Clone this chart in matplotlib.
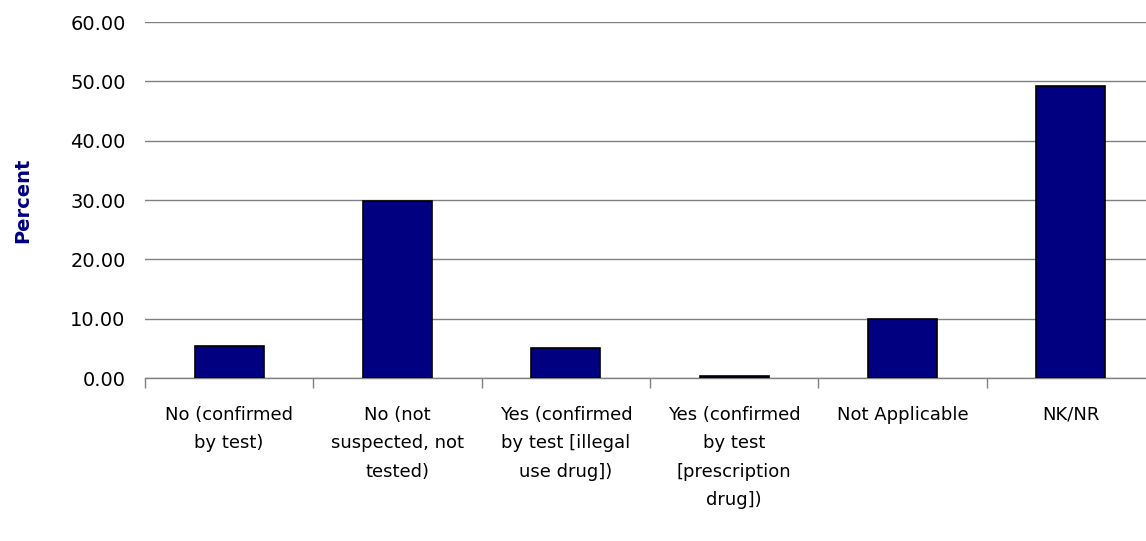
import matplotlib
matplotlib.use("Agg")
import matplotlib.pyplot as plt
from matplotlib.ticker import FixedLocator, FuncFormatter

categories = [
    "No (confirmed\nby test)",
    "No (not\nsuspected, not\ntested)",
    "Yes (confirmed\nby test [illegal\nuse drug])",
    "Yes (confirmed\nby test\n[prescription\ndrug])",
    "Not Applicable",
    "NK/NR",
]
values = [5.4, 29.9, 5.0, 0.3, 10.0, 49.2]
yticks = [0, 10, 20, 30, 40, 50, 60]

W, H = 1146, 541
fig = plt.figure(figsize=(W / 100, H / 100), dpi=100)
left, right, bottom, top = 145, 1155, 378, 22
ax = fig.add_axes([left / W, (H - bottom) / H, (right - left) / W, (bottom - top) / H])

n = len(categories)
centers = [i + 0.5 for i in range(n)]
ax.bar(centers, values, width=0.41, color="#000080", edgecolor="black", linewidth=1.2, zorder=3)

ax.set_xlim(0, n)
ax.set_ylim(0, 60)

grey = "#808080"
ax.set_yticks(yticks)
ax.yaxis.set_major_formatter(FuncFormatter(lambda v, p: f"{v:.2f}"))
ax.grid(axis="y", color=grey, linewidth=1.0, zorder=0)
ax.tick_params(axis="y", length=0, pad=14, labelsize=14, labelcolor="black")

ax.xaxis.set_major_locator(FixedLocator(list(range(n + 1))))
ax.xaxis.set_major_formatter(FuncFormatter(lambda v, p: ""))
ax.xaxis.set_minor_locator(FixedLocator(centers))
ax.set_xticklabels(categories, minor=True)
ax.tick_params(axis="x", which="major", length=7, color=grey, width=1.0, direction="out")
ax.tick_params(axis="x", which="minor", length=0, pad=20)
for lab in ax.get_xticklabels(minor=True):
    lab.set_fontsize(13)
    lab.set_linespacing(1.75)
    lab.set_verticalalignment("top")

for s in ["left", "right", "top"]:
    ax.spines[s].set_visible(False)
ax.spines["bottom"].set_color(grey)
ax.spines["bottom"].set_linewidth(1.0)

ax.set_ylabel("Percent", fontsize=14, fontweight="bold", color="#000080")
ax.yaxis.set_label_coords(-(145 - 32) / (right - left), 0.5)

fig.savefig("out.png", dpi=100)
